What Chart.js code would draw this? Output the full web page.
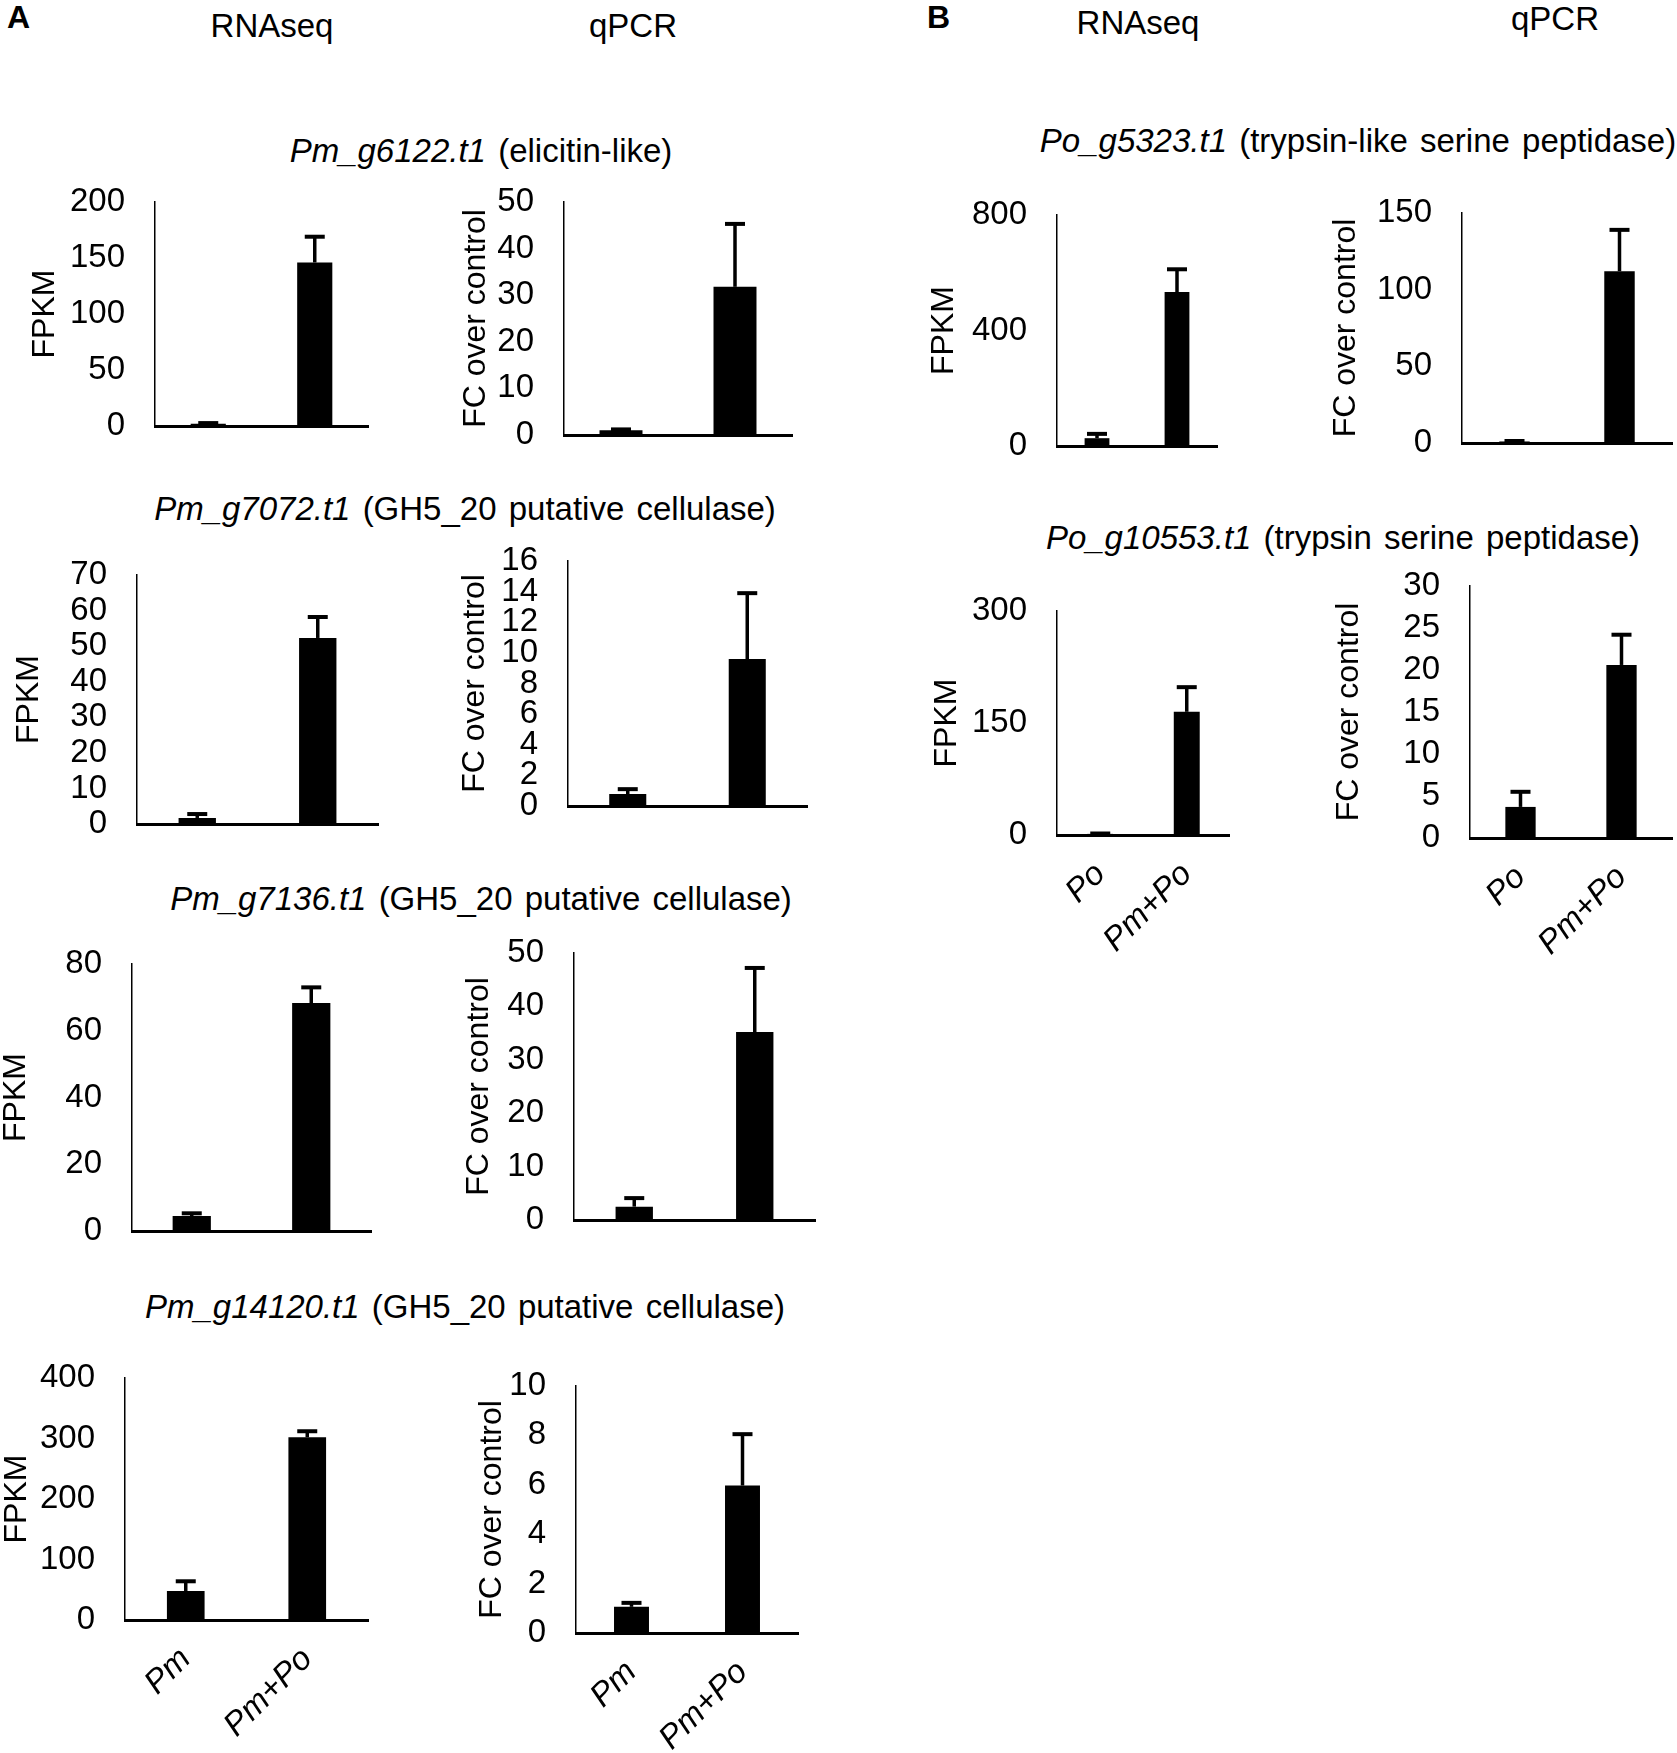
<!DOCTYPE html>
<html lang="en">
<head>
<meta charset="UTF-8">
<title>RNAseq and qPCR expression</title>
<script src="https://cdn.jsdelivr.net/npm/chart.js"></script>
<style>
  html, body { margin: 0; padding: 0; background: #fff; }
  body { position: relative; width: 1677px; height: 1753px; overflow: hidden;
         font-family: 'Liberation Sans', Arial, sans-serif; color: #000; }
  .txt { position: absolute; white-space: nowrap; transform: translate(-50%, -50%);
         font-size: 33px; line-height: 1; }
  .title { word-spacing: 3px; }
  .panel { position: absolute; font-weight: bold; font-size: 32px; line-height: 1; }
  canvas { position: absolute; }
</style>
</head>
<body>
<div class="panel" style="left:7px;top:1px">A</div>
<div class="panel" style="left:927px;top:1px">B</div>
<div class="txt" style="left:272px;top:25px">RNAseq</div>
<div class="txt" style="left:633px;top:25px">qPCR</div>
<div class="txt" style="left:1138px;top:22px">RNAseq</div>
<div class="txt" style="left:1555px;top:18px">qPCR</div>

<div class="txt title" style="left:481px;top:150px"><i>Pm_g6122.t1</i> (elicitin-like)</div>
<div class="txt title" style="left:465px;top:508px"><i>Pm_g7072.t1</i> (GH5_20 putative cellulase)</div>
<div class="txt title" style="left:481px;top:898px"><i>Pm_g7136.t1</i> (GH5_20 putative cellulase)</div>
<div class="txt title" style="left:465px;top:1306px"><i>Pm_g14120.t1</i> (GH5_20 putative cellulase)</div>
<div class="txt title" style="left:1358px;top:140px"><i>Po_g5323.t1</i> (trypsin-like serine peptidase)</div>
<div class="txt title" style="left:1343px;top:537px"><i>Po_g10553.t1</i> (trypsin serine peptidase)</div>

<script>
// groups on the x axis
const groupsA = ['Pm', 'Pm+Po'];
const groupsB = ['Po', 'Pm+Po'];

// mean values and error (upper bar only)
const g6122_rnaseq = [2, 146];
const g6122_rnaseq_sd = [0.6, 23];
const g6122_qpcr = [1, 31.8];
const g6122_qpcr_sd = [0.2, 13.5];

const g7072_rnaseq = [1.7, 52.3];
const g7072_rnaseq_sd = [1.1, 5.9];
const g7072_qpcr = [0.78, 9.6];
const g7072_qpcr_sd = [0.32, 4.3];

const g7136_rnaseq = [4.5, 68.3];
const g7136_rnaseq_sd = [0.8, 4.7];
const g7136_qpcr = [2.5, 35.2];
const g7136_qpcr_sd = [1.6, 12];

const g14120_rnaseq = [48, 302];
const g14120_rnaseq_sd = [16, 10];
const g14120_qpcr = [1.06, 5.97];
const g14120_qpcr_sd = [0.16, 2.08];

const g5323_rnaseq = [27, 533];
const g5323_rnaseq_sd = [15, 79];
const g5323_qpcr = [1, 112];
const g5323_qpcr_sd = [0.3, 27];

const g10553_rnaseq = [1.5, 165];
const g10553_rnaseq_sd = [0.5, 33];
const g10553_qpcr = [3.7, 20.6];
const g10553_qpcr_sd = [1.8, 3.6];

const FONT = "'Liberation Sans', Arial, sans-serif";
Chart.defaults.font.family = FONT;
Chart.defaults.color = '#000';

// draws the upward error bar with a cap on every bar
const errorBars = {
  id: 'errorBars',
  afterDatasetsDraw(chart) {
    const ds = chart.data.datasets[0];
    const meta = chart.getDatasetMeta(0);
    const y = chart.scales.y;
    const ctx = chart.ctx;
    ctx.save();
    ctx.strokeStyle = '#000';
    meta.data.forEach((bar, i) => {
      const top = y.getPixelForValue(ds.data[i] + ds.errors[i]);
      ctx.lineWidth = 3.5;
      ctx.beginPath();
      ctx.moveTo(bar.x, bar.y);
      ctx.lineTo(bar.x, top);
      ctx.stroke();
      ctx.lineWidth = 4;
      ctx.beginPath();
      ctx.moveTo(bar.x - 10, top);
      ctx.lineTo(bar.x + 10, top);
      ctx.stroke();
    });
    ctx.restore();
  }
};

// axisX/top/bottom/right: where the plot area sits on the page, titleX: centre of y title
const panels = [
  { labels: groupsA, values: g6122_rnaseq, errors: g6122_rnaseq_sd, max: 200, step: 50, yTitle: 'FPKM',
    axisX: 155, top: 202, bottom: 426, right: 368, titleX: 45, barPct: 0.33 },
  { labels: groupsA, values: g6122_qpcr, errors: g6122_qpcr_sd, max: 50, step: 10, yTitle: 'FC over control',
    axisX: 564, top: 202, bottom: 435, right: 792, titleX: 476, barPct: 0.377 },
  { labels: groupsA, values: g7072_rnaseq, errors: g7072_rnaseq_sd, max: 70, step: 10, yTitle: 'FPKM',
    axisX: 137, top: 575, bottom: 824, right: 378, titleX: 29, barPct: 0.31 },
  { labels: groupsA, values: g7072_qpcr, errors: g7072_qpcr_sd, max: 16, step: 2, yTitle: 'FC over control',
    axisX: 568, top: 561, bottom: 806, right: 807, titleX: 475, barPct: 0.31 },
  { labels: groupsA, values: g7136_rnaseq, errors: g7136_rnaseq_sd, max: 80, step: 20, yTitle: 'FPKM',
    axisX: 132, top: 964, bottom: 1231, right: 371, titleX: 16, barPct: 0.32 },
  { labels: groupsA, values: g7136_qpcr, errors: g7136_qpcr_sd, max: 50, step: 10, yTitle: 'FC over control',
    axisX: 574, top: 953, bottom: 1220, right: 815, titleX: 479, barPct: 0.31 },
  { labels: groupsA, values: g14120_rnaseq, errors: g14120_rnaseq_sd, max: 400, step: 100, yTitle: 'FPKM',
    axisX: 125, top: 1378, bottom: 1620, right: 368, titleX: 17, barPct: 0.31, showX: true },
  { labels: groupsA, values: g14120_qpcr, errors: g14120_qpcr_sd, max: 10, step: 2, yTitle: 'FC over control',
    axisX: 576, top: 1386, bottom: 1633, right: 798, titleX: 492, barPct: 0.315, showX: true },
  { labels: groupsB, values: g5323_rnaseq, errors: g5323_rnaseq_sd, max: 800, step: 400, yTitle: 'FPKM',
    axisX: 1057, top: 215, bottom: 446, right: 1217, titleX: 944, barPct: 0.31 },
  { labels: groupsB, values: g5323_qpcr, errors: g5323_qpcr_sd, max: 150, step: 50, yTitle: 'FC over control',
    axisX: 1462, top: 213, bottom: 443, right: 1672, titleX: 1346, barPct: 0.29 },
  { labels: groupsB, values: g10553_rnaseq, errors: g10553_rnaseq_sd, max: 300, step: 150, yTitle: 'FPKM',
    axisX: 1057, top: 611, bottom: 835, right: 1231, titleX: 947, barPct: 0.30, showX: true },
  { labels: groupsB, values: g10553_qpcr, errors: g10553_qpcr_sd, max: 30, step: 5, yTitle: 'FC over control',
    axisX: 1470, top: 586, bottom: 838, right: 1672, titleX: 1349, barPct: 0.30, showX: true }
];

function makeChart(p) {
  const padTop = 25, padRight = 5;
  const xH = p.showX ? 135 : 0;
  const padBottom = p.showX ? 0 : 25;
  const left = p.titleX - 16;
  const yW = p.axisX - left;
  const w = p.right - left + padRight;
  const h = padTop + (p.bottom - p.top) + xH + padBottom;

  const canvas = document.createElement('canvas');
  canvas.width = w;
  canvas.height = h;
  canvas.style.left = left + 'px';
  canvas.style.top = (p.top - padTop) + 'px';
  canvas.style.width = w + 'px';
  canvas.style.height = h + 'px';
  document.body.appendChild(canvas);

  new Chart(canvas, {
    type: 'bar',
    data: {
      labels: p.labels,
      datasets: [{
        data: p.values,
        errors: p.errors,
        backgroundColor: '#000',
        borderWidth: 0,
        categoryPercentage: 1,
        barPercentage: p.barPct
      }]
    },
    options: {
      responsive: false,
      animation: false,
      devicePixelRatio: 1,
      layout: { padding: { top: padTop, right: padRight, bottom: padBottom, left: 0 } },
      plugins: { legend: { display: false }, tooltip: { enabled: false } },
      scales: {
        x: {
          grid: { display: false, drawTicks: false },
          border: { display: true, color: '#000', width: 3 },
          ticks: { display: !!p.showX, font: { size: 33, style: 'italic' },
                   minRotation: 45, maxRotation: 45, padding: 20 },
          afterFit: s => { s.height = xH; }
        },
        y: {
          min: 0,
          max: p.max,
          // tick marks are hidden, tickLength only sets the gap to the labels
          grid: { display: false, drawTicks: true, tickLength: 27 },
          border: { color: '#000', width: 1.5 },
          ticks: { stepSize: p.step, autoSkip: false, font: { size: 33, lineHeight: 1 }, padding: 3 },
          title: { display: true, text: p.yTitle, font: { size: 32, lineHeight: 1 }, padding: 0 },
          afterFit: s => { s.width = yW; }
        }
      }
    },
    plugins: [errorBars]
  });
}

panels.forEach(makeChart);
</script>
</body>
</html>
